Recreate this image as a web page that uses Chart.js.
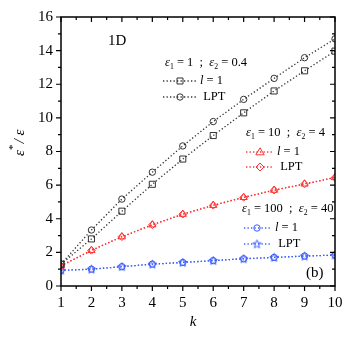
<!DOCTYPE html>
<html>
<head>
<meta charset="utf-8">
<script src="https://cdn.jsdelivr.net/npm/chart.js@4"></script>
<style>
  html, body { margin: 0; padding: 0; background: #fff; }
  #wrap { width: 354px; height: 341px; }
</style>
</head>
<body>
<div id="wrap"><canvas id="ratioChart" width="354" height="341"></canvas></div>
<script>
// data
const kValues = [1, 2, 3, 4, 5, 6, 7, 8, 9, 10];
const blackSquare = [1.3, 2.8, 4.45, 6.05, 7.55, 8.95, 10.3, 11.6, 12.8, 13.97];
const blackCircle = [1.3, 3.33, 5.17, 6.77, 8.33, 9.78, 11.1, 12.35, 13.58, 14.7];
const redTriangle = [1.2, 2.12, 2.93, 3.64, 4.27, 4.8, 5.27, 5.7, 6.07, 6.45];
const redDiamond = [1.2, 2.12, 2.93, 3.64, 4.27, 4.8, 5.27, 5.7, 6.07, 6.45];
const blueCircle = [0.93, 1.0, 1.15, 1.3, 1.4, 1.51, 1.62, 1.7, 1.78, 1.84];
const blueStar = [0.93, 1.0, 1.15, 1.3, 1.4, 1.51, 1.62, 1.7, 1.78, 1.84];
const yTicks = [0, 2, 4, 6, 8, 10, 12, 14, 16];

const BLACK = "#333333";
const RED = "#ff3030";
const BLUE = "#3a5cff";
const SERIF = "'Liberation Serif', 'DejaVu Serif', serif";

// five-point star marker as a small canvas
function makeStar(color) {
	const c = document.createElement("canvas");
	c.width = 11; c.height = 11;
	const g = c.getContext("2d");
	g.strokeStyle = color;
	g.lineWidth = 1;
	g.beginPath();
	for (let i = 0; i < 10; i++) {
		const r = i % 2 === 0 ? 4.4 : 1.9;
		const a = -Math.PI / 2 + i * Math.PI / 5;
		const px = 5.5 + r * Math.cos(a), py = 5.8 + r * Math.sin(a);
		i === 0 ? g.moveTo(px, py) : g.lineTo(px, py);
	}
	g.closePath();
	g.stroke();
	return c;
}
const starImg = makeStar(BLUE);

function series(label, values, color, style, radius) {
	return {
		label: label,
		data: kValues.map((k, i) => ({ x: k, y: values[i] })),
		borderColor: color,
		backgroundColor: "rgba(0,0,0,0)",
		pointBorderColor: color,
		pointBackgroundColor: "rgba(0,0,0,0)",
		pointStyle: style,
		pointRadius: radius,
		pointBorderWidth: 1,
		borderWidth: 1.3,
		borderDash: [1.3, 2.2],
		tension: 0,
	};
}

const datasets = [
	series("black l=1", blackSquare, BLACK, "rect", 4.3),
	series("black LPT", blackCircle, BLACK, "circle", 3.2),
	series("red l=1", redTriangle, RED, "triangle", 4.2),
	series("red LPT", redDiamond, RED, "rectRot", 3.8),
	series("blue l=1", blueCircle, BLUE, "circle", 3.2),
	series("blue LPT", blueStar, BLUE, starImg, 5),
];

// draw text made of segments: [text, italic, sub]
function richText(ctx, x, y, parts, size) {
	let cx = x;
	for (const p of parts) {
		const fs = p[2] ? size * 0.62 : size;
		ctx.font = (p[1] ? "italic " : "") + fs + "px " + SERIF;
		ctx.fillText(p[0], cx, p[2] ? y + size * 0.3 : y);
		cx += ctx.measureText(p[0]).width;
	}
}

function marker(ctx, style, x, y, color) {
	ctx.save();
	ctx.strokeStyle = color;
	ctx.lineWidth = 1;
	ctx.beginPath();
	if (style === "rect") {
		ctx.rect(x - 3, y - 3, 6, 6);
	} else if (style === "circle") {
		ctx.arc(x, y, 3.2, 0, Math.PI * 2);
	} else if (style === "triangle") {
		ctx.moveTo(x, y - 4.2); ctx.lineTo(x + 4.2, y + 2.8); ctx.lineTo(x - 4.2, y + 2.8); ctx.closePath();
	} else if (style === "diamond") {
		ctx.moveTo(x, y - 4); ctx.lineTo(x + 4, y); ctx.lineTo(x, y + 4); ctx.lineTo(x - 4, y); ctx.closePath();
	}
	ctx.stroke();
	if (style === "star") ctx.drawImage(starImg, x - 5.5, y - 5.5);
	ctx.restore();
}

function legendRow(ctx, x0, x1, xm, y, style, color, parts) {
	ctx.save();
	ctx.strokeStyle = color;
	ctx.lineWidth = 1.3;
	ctx.setLineDash([1.3, 2.2]);
	ctx.beginPath();
	ctx.moveTo(x0, y); ctx.lineTo(x1, y);
	ctx.stroke();
	ctx.restore();
	marker(ctx, style, xm, y, color);
	ctx.fillStyle = "#000";
	richText(ctx, x1 + 4, y, parts, 12.5);
}

const framePlugin = {
	id: "frame",
	afterDraw(chart) {
		const ctx = chart.ctx;
		const a = chart.chartArea;
		const xs = chart.scales.x, ys = chart.scales.y;
		ctx.save();
		ctx.strokeStyle = "#000";
		ctx.lineWidth = 1.5;
		ctx.strokeRect(a.left, a.top, a.right - a.left, a.bottom - a.top);
		ctx.lineWidth = 1.2;
		ctx.beginPath();
		for (let v = 1; v <= 10; v += 0.5) {
			const px = xs.getPixelForValue(v);
			const len = Number.isInteger(v) ? 5 : 3;
			ctx.moveTo(px, a.bottom); ctx.lineTo(px, a.bottom + len);
			ctx.moveTo(px, a.top); ctx.lineTo(px, a.top + len);
		}
		for (let v = 0; v <= 16; v += 1) {
			const py = ys.getPixelForValue(v);
			const len = v % 2 === 0 ? 5 : 3;
			ctx.moveTo(a.left, py); ctx.lineTo(a.left - len, py);
			ctx.moveTo(a.right, py); ctx.lineTo(a.right - len, py);
		}
		ctx.stroke();

		ctx.fillStyle = "#000";
		ctx.textBaseline = "middle";
		ctx.font = "15px " + SERIF;
		ctx.fillText("1D", 108, 41);
		ctx.fillText("(b)", 306, 273);

		richText(ctx, 165, 63, [["\u03b5", true], ["1", false, true], [" = 1  ;  ", false], ["\u03b5", true], ["2", false, true], [" = 0.4", false]], 12.5);
		legendRow(ctx, 163, 196, 180, 81, "rect", BLACK, [["l", true], [" = 1", false]]);
		legendRow(ctx, 163, 196, 180, 97, "circle", BLACK, [[" LPT", false]]);

		richText(ctx, 246, 133, [["\u03b5", true], ["1", false, true], [" = 10  ;  ", false], ["\u03b5", true], ["2", false, true], [" = 4", false]], 12.5);
		legendRow(ctx, 246, 273, 260, 152, "triangle", RED, [["l", true], [" = 1", false]]);
		legendRow(ctx, 246, 273, 260, 167, "diamond", RED, [[" LPT", false]]);

		richText(ctx, 242, 209, [["\u03b5", true], ["1", false, true], [" = 100  ;  ", false], ["\u03b5", true], ["2", false, true], [" = 40", false]], 12.5);
		legendRow(ctx, 244, 271, 257, 228, "circle", BLUE, [["l", true], [" = 1", false]]);
		legendRow(ctx, 244, 271, 257, 244, "star", BLUE, [[" LPT", false]]);

		// y axis title
		ctx.save();
		ctx.translate(20, 143);
		ctx.rotate(-Math.PI / 2);
		ctx.textAlign = "left";
		ctx.font = "italic 15px " + SERIF;
		const w1 = ctx.measureText("\u03b5").width;
		ctx.fillText("\u03b5", -13, 0);
		ctx.font = "11px " + SERIF;
		ctx.fillText("*", -13 + w1, -7);
		ctx.font = "italic 15px " + SERIF;
		ctx.fillText(" / \u03b5", -13 + w1 + 3, 0);
		ctx.restore();

		ctx.textAlign = "center";
		ctx.font = "italic 15px " + SERIF;
		ctx.fillText("k", 193, 322);
		ctx.restore();
	},
};

const config = {
	type: "line",
	data: { datasets: datasets },
	plugins: [framePlugin],
	options: {
		responsive: false,
		animation: false,
		layout: { padding: { left: 0, right: 19, top: 13, bottom: 0 } },
		plugins: { legend: { display: false }, tooltip: { enabled: false } },
		scales: {
			x: {
				type: "linear",
				min: 1,
				max: 10,
				grid: { display: false, drawTicks: false },
				border: { display: false },
				ticks: {
					stepSize: 1,
					padding: 8,
					color: "#000",
					font: { family: SERIF, size: 15 },
				},
				afterFit: (s) => { s.height = 55; },
			},
			y: {
				type: "linear",
				min: 0,
				max: 16,
				grid: { display: false, drawTicks: false },
				border: { display: false },
				afterBuildTicks: (s) => { s.ticks = yTicks.map((v) => ({ value: v })); },
				ticks: {
					padding: 8,
					color: "#000",
					font: { family: SERIF, size: 15 },
				},
				afterFit: (s) => { s.width = 61; },
			},
		},
	},
};

new Chart(document.getElementById("ratioChart"), config);
</script>
</body>
</html>
